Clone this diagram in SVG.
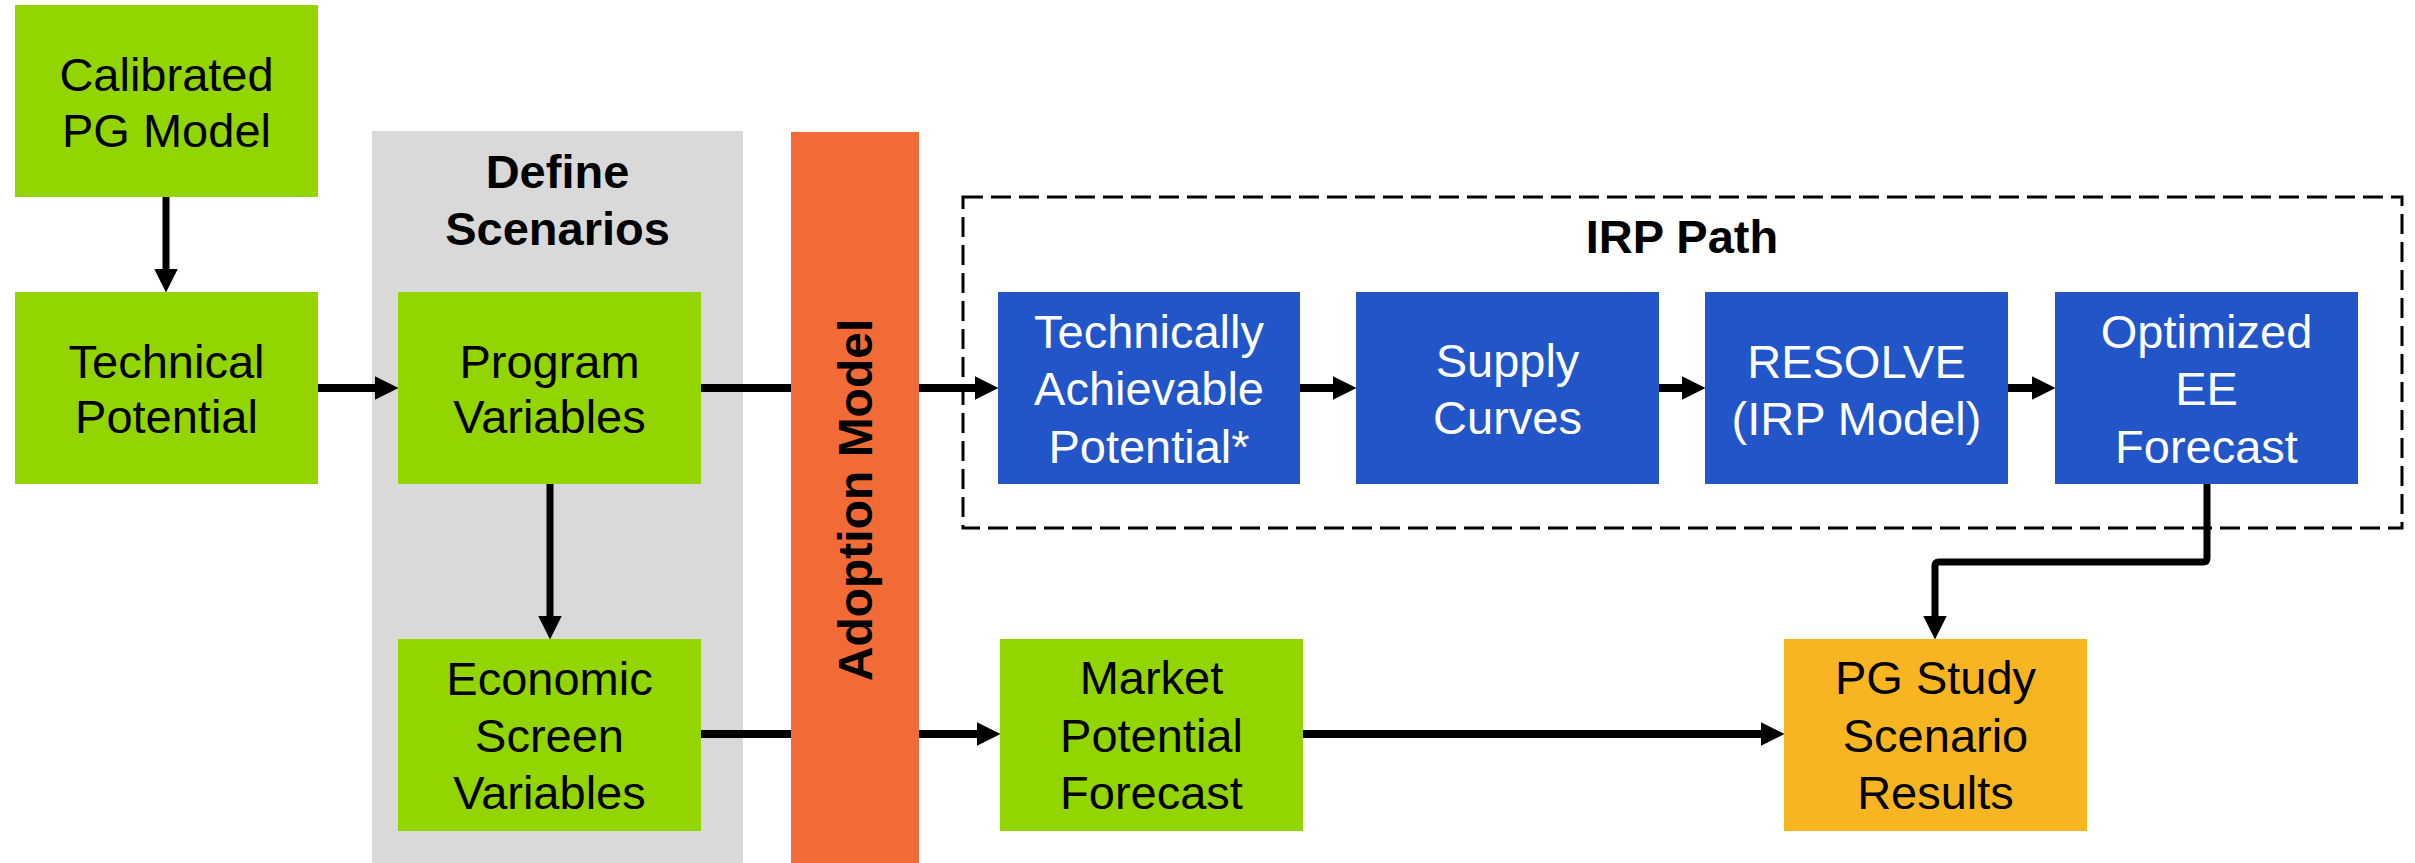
<svg xmlns="http://www.w3.org/2000/svg" width="2415" height="863" viewBox="0 0 2415 863">
  <style>
    .green { fill: #93D500; }
    .blue { fill: #2256C8; }
    .gold { fill: #F8B522; }
    .orange { fill: #F26A35; }
    .panel { fill: #D9D9D9; }
    .t { font-family: "Liberation Sans", Arial, sans-serif; font-size: 47px; text-anchor: middle; fill: #000; }
    .tw { font-family: "Liberation Sans", Arial, sans-serif; font-size: 47px; text-anchor: middle; fill: #FFFFFF; }
    .tb { font-family: "Liberation Sans", Arial, sans-serif; font-size: 47px; font-weight: bold; text-anchor: middle; fill: #000; }
    .conn { stroke: #000; stroke-width: 8; fill: none; }
    .connv { stroke: #000; stroke-width: 7; fill: none; }
    .dash { stroke: #000; stroke-width: 3; fill: none; stroke-dasharray: 20 8; }
  </style>
  <defs>
    <marker id="arrow" markerUnits="userSpaceOnUse" markerWidth="24" markerHeight="24" viewBox="0 0 23 23" refX="11" refY="11.5" orient="auto">
      <path d="M0,0 L23,11.5 L0,23 Z" fill="#000"/>
    </marker>
  </defs>

  <rect width="2415" height="863" fill="#FFFFFF"/>

  <g id="define-scenarios">
    <rect class="panel" x="372" y="131" width="371" height="732"/>
    <text class="tb" x="557.5" y="188">Define</text>
    <text class="tb" x="557.5" y="245">Scenarios</text>
  </g>

  <g id="irp-path">
    <rect class="dash" x="963" y="197" width="1439" height="331"/>
    <text class="tb" x="1682" y="253">IRP Path</text>
  </g>

  <g id="connectors">
    <line class="connv" x1="166" y1="194" x2="166" y2="280" marker-end="url(#arrow)"/>
    <line class="conn" x1="315" y1="388" x2="386" y2="388" marker-end="url(#arrow)"/>
    <line class="conn" x1="698" y1="388" x2="791" y2="388"/>
    <line class="conn" x1="919" y1="388" x2="986" y2="388" marker-end="url(#arrow)"/>
    <line class="conn" x1="1297" y1="388" x2="1344" y2="388" marker-end="url(#arrow)"/>
    <line class="conn" x1="1656" y1="388" x2="1693" y2="388" marker-end="url(#arrow)"/>
    <line class="conn" x1="2005" y1="388" x2="2043" y2="388" marker-end="url(#arrow)"/>
    <path class="connv" d="M2207,481 V558 Q2207,562 2203,562 H1939 Q1935,562 1935,566 V627" stroke-linejoin="round" marker-end="url(#arrow)"/>
    <line class="connv" x1="550" y1="481" x2="550" y2="627" marker-end="url(#arrow)"/>
    <line class="conn" x1="698" y1="734" x2="791" y2="734"/>
    <line class="conn" x1="919" y1="734" x2="988" y2="734" marker-end="url(#arrow)"/>
    <line class="conn" x1="1300" y1="734" x2="1772" y2="734" marker-end="url(#arrow)"/>
  </g>

  <g id="calibrated-pg-model">
    <rect class="green" x="15" y="5" width="303" height="192"/>
    <text class="t" x="166.5" y="91">Calibrated</text>
    <text class="t" x="166.5" y="147">PG Model</text>
  </g>

  <g id="technical-potential">
    <rect class="green" x="15" y="292" width="303" height="192"/>
    <text class="t" x="166.5" y="378">Technical</text>
    <text class="t" x="166.5" y="433">Potential</text>
  </g>

  <g id="program-variables">
    <rect class="green" x="398" y="292" width="303" height="192"/>
    <text class="t" x="549.5" y="378">Program</text>
    <text class="t" x="549.5" y="433">Variables</text>
  </g>

  <g id="economic-screen-variables">
    <rect class="green" x="398" y="639" width="303" height="192"/>
    <text class="t" x="549.5" y="695">Economic</text>
    <text class="t" x="549.5" y="752">Screen</text>
    <text class="t" x="549.5" y="809">Variables</text>
  </g>

  <g id="adoption-model">
    <rect class="orange" x="791" y="132" width="128" height="731"/>
    <text class="tb" x="0" y="0" transform="translate(872,500) rotate(-90)" style="font-size:48px">Adoption Model</text>
  </g>

  <g id="technically-achievable-potential">
    <rect class="blue" x="998" y="292" width="302" height="192"/>
    <text class="tw" x="1149" y="348">Technically</text>
    <text class="tw" x="1149" y="405">Achievable</text>
    <text class="tw" x="1149" y="463">Potential*</text>
  </g>

  <g id="supply-curves">
    <rect class="blue" x="1356" y="292" width="303" height="192"/>
    <text class="tw" x="1507.5" y="377">Supply</text>
    <text class="tw" x="1507.5" y="434">Curves</text>
  </g>

  <g id="resolve">
    <rect class="blue" x="1705" y="292" width="303" height="192"/>
    <text class="tw" x="1856.5" y="378">RESOLVE</text>
    <text class="tw" x="1856.5" y="435">(IRP Model)</text>
  </g>

  <g id="optimized-ee-forecast">
    <rect class="blue" x="2055" y="292" width="303" height="192"/>
    <text class="tw" x="2206.5" y="348">Optimized</text>
    <text class="tw" x="2206.5" y="405">EE</text>
    <text class="tw" x="2206.5" y="463">Forecast</text>
  </g>

  <g id="market-potential-forecast">
    <rect class="green" x="1000" y="639" width="303" height="192"/>
    <text class="t" x="1151.5" y="694">Market</text>
    <text class="t" x="1151.5" y="752">Potential</text>
    <text class="t" x="1151.5" y="809">Forecast</text>
  </g>

  <g id="pg-study-scenario-results">
    <rect class="gold" x="1784" y="639" width="303" height="192"/>
    <text class="t" x="1935.5" y="694">PG Study</text>
    <text class="t" x="1935.5" y="752">Scenario</text>
    <text class="t" x="1935.5" y="809">Results</text>
  </g>
</svg>
